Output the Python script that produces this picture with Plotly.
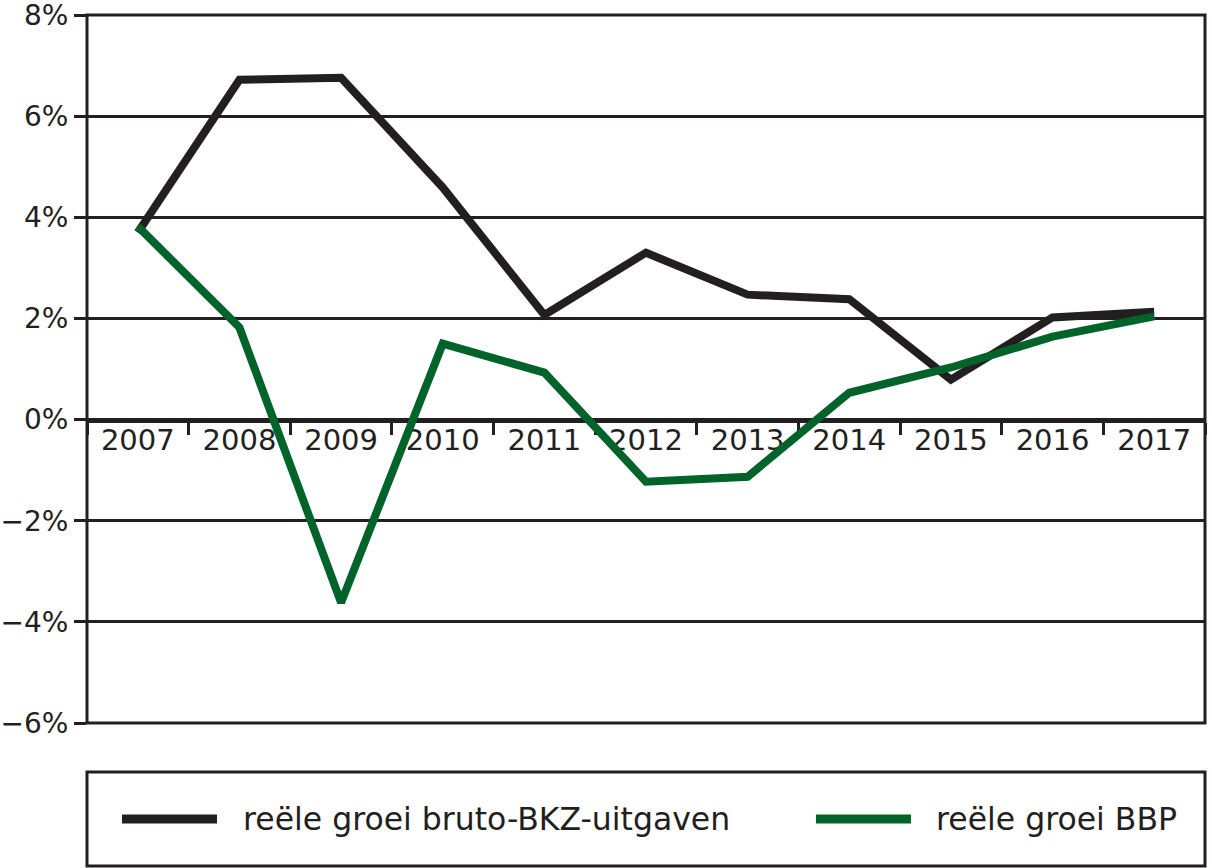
import plotly.graph_objects as go

years = ["2007", "2008", "2009", "2010", "2011", "2012", "2013", "2014", "2015", "2016", "2017"]
bkz = [3.7, 6.72, 6.76, 4.59, 2.07, 3.3, 2.47, 2.38, 0.79, 2.02, 2.13]
bbp = [3.82, 1.82, -3.62, 1.5, 0.93, -1.23, -1.13, 0.53, 1.03, 1.64, 2.04]
name_bkz = "reële groei bruto-BKZ-uitgaven"
name_bbp = "reële groei BBP"
ytick_vals = [-6, -4, -2, 0, 2, 4, 6, 8]
ytick_text = ["−6%", "−4%", "−2%", "0%", "2%", "4%", "6%", "8%"]

BLACK = "#231f20"
GREEN = "#00632a"
FONT = "DejaVu Sans"

fig = go.Figure()
fig.add_trace(go.Scatter(x=years, y=bkz, mode="lines", name=name_bkz,
                         line=dict(color=BLACK, width=8), showlegend=False))
fig.add_trace(go.Scatter(x=years, y=bbp, mode="lines", name=name_bbp,
                         line=dict(color=GREEN, width=8), showlegend=False))

fig.update_layout(
    width=1212, height=868,
    margin=dict(l=87, r=7, t=15, b=145),
    paper_bgcolor="white", plot_bgcolor="white",
    font=dict(family=FONT, size=29, color=BLACK),
    xaxis=dict(type="category", anchor="free", position=6/14, automargin=False,
               showline=True, linecolor=BLACK, linewidth=5,
               ticks="outside", tickson="boundaries", ticklen=12, tickwidth=3,
               tickcolor=BLACK, showgrid=False, layer="below traces",
               tickfont=dict(size=29, family=FONT, color=BLACK),
               ticklabelstandoff=-7,
               range=[-0.5, 10.5]),
    yaxis=dict(range=[-6, 8], tickvals=ytick_vals, ticktext=ytick_text,
               automargin=False,
               showgrid=True, gridcolor=BLACK, gridwidth=3,
               zeroline=False, ticks="outside", ticklen=12, tickwidth=3,
               tickcolor=BLACK, showline=False, ticklabeloverflow="allow",
               tickfont=dict(size=28, family=FONT, color=BLACK)),
)

# frame around plot area
fig.add_shape(type="rect", xref="paper", yref="paper", x0=0, x1=1, y0=0, y1=1,
              line=dict(color=BLACK, width=3), layer="below")

# legend box
fig.add_shape(type="rect", xref="paper", yref="paper", x0=0, x1=1, y0=-0.202, y1=-0.0692,
              line=dict(color=BLACK, width=3))
ly = -0.1356
fig.add_shape(type="line", xref="paper", yref="paper", x0=0.0313, x1=0.1163, y0=ly, y1=ly,
              line=dict(color=BLACK, width=9))
fig.add_shape(type="line", xref="paper", yref="paper", x0=0.652, x1=0.737, y0=ly, y1=ly,
              line=dict(color=GREEN, width=9))
fig.add_annotation(xref="paper", yref="paper", x=0.1395, y=ly, text=name_bkz,
                   showarrow=False, xanchor="left", yanchor="middle", xshift=-2,
                   font=dict(size=31.5, family=FONT, color=BLACK))
fig.add_annotation(xref="paper", yref="paper", x=0.7594, y=ly, text=name_bbp,
                   showarrow=False, xanchor="left", yanchor="middle", xshift=-2,
                   font=dict(size=31.5, family=FONT, color=BLACK))

fig.write_html("out.html")
